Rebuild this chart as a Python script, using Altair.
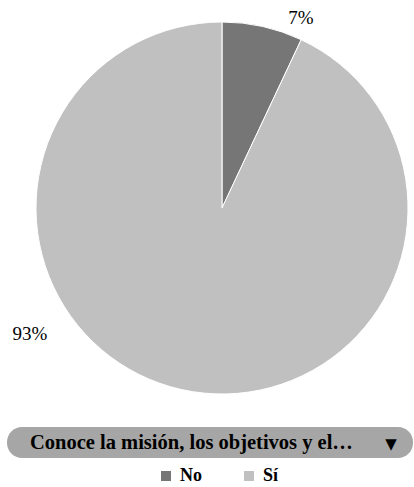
import altair as alt
import pandas as pd

categories = ["No", "Sí"]
values = [7, 93]
labels = ["7%", "93%"]
colors = ["#767676", "#c0c0c0"]
title_text = "Conoce la misión, los objetivos y el…"

df = pd.DataFrame({"cat": categories, "val": values, "label": labels, "order": [0, 1]})

W, H = 414, 487
CX, CY, R = 222, 208, 186
FONT = "Liberation Serif"

color_scale = alt.Scale(domain=categories, range=colors)

pie = alt.Chart(df).mark_arc(radius=R, stroke="white", strokeWidth=1).encode(
    theta=alt.Theta("val:Q", stack=True),
    order=alt.Order("order:Q"),
    color=alt.Color(
        "cat:N",
        scale=color_scale,
        sort=categories,
        legend=alt.Legend(
            title=None,
            orient="none",
            legendX=157,
            legendY=467,
            direction="horizontal",
            symbolType="square",
            symbolSize=100,
            symbolStrokeWidth=0,
            labelFont=FONT,
            labelFontWeight="bold",
            labelFontSize=18,
            labelColor="#000000",
            columnPadding=38,
            labelOffset=5,
        ),
    ),
    x=alt.value(CX),
    y=alt.value(CY),
)

lab_no = alt.Chart(df).transform_filter(alt.datum.cat == "No").mark_text(
    font=FONT, fontSize=19, color="#000000"
).encode(text="label:N", x=alt.value(301), y=alt.value(18))
lab_si = alt.Chart(df).transform_filter(alt.datum.cat == "Sí").mark_text(
    font=FONT, fontSize=19, color="#000000"
).encode(text="label:N", x=alt.value(30), y=alt.value(334))

bar = alt.Chart(pd.DataFrame({"t": [title_text]})).mark_rect(
    cornerRadius=15, color="#a6a6a6"
).encode(x=alt.value(7), x2=alt.value(413), y=alt.value(427), y2=alt.value(458))

bar_text = alt.Chart(pd.DataFrame({"t": [title_text]})).mark_text(
    font=FONT, fontSize=20.5, fontWeight="bold", color="#000000", align="left"
).encode(text="t:N", x=alt.value(30), y=alt.value(443))

tri = alt.Chart(pd.DataFrame({"t": ["▼"]})).mark_text(
    font="DejaVu Sans", fontSize=15, color="#000000"
).encode(text="t:N", x=alt.value(391), y=alt.value(444))

chart = alt.layer(pie, lab_no, lab_si, bar, bar_text, tri).properties(
    width=W, height=H, padding=0, autosize=alt.AutoSizeParams(type="none")
).configure_view(stroke=None)

chart.save("out.html", embed_options={"renderer": "svg", "actions": False})
